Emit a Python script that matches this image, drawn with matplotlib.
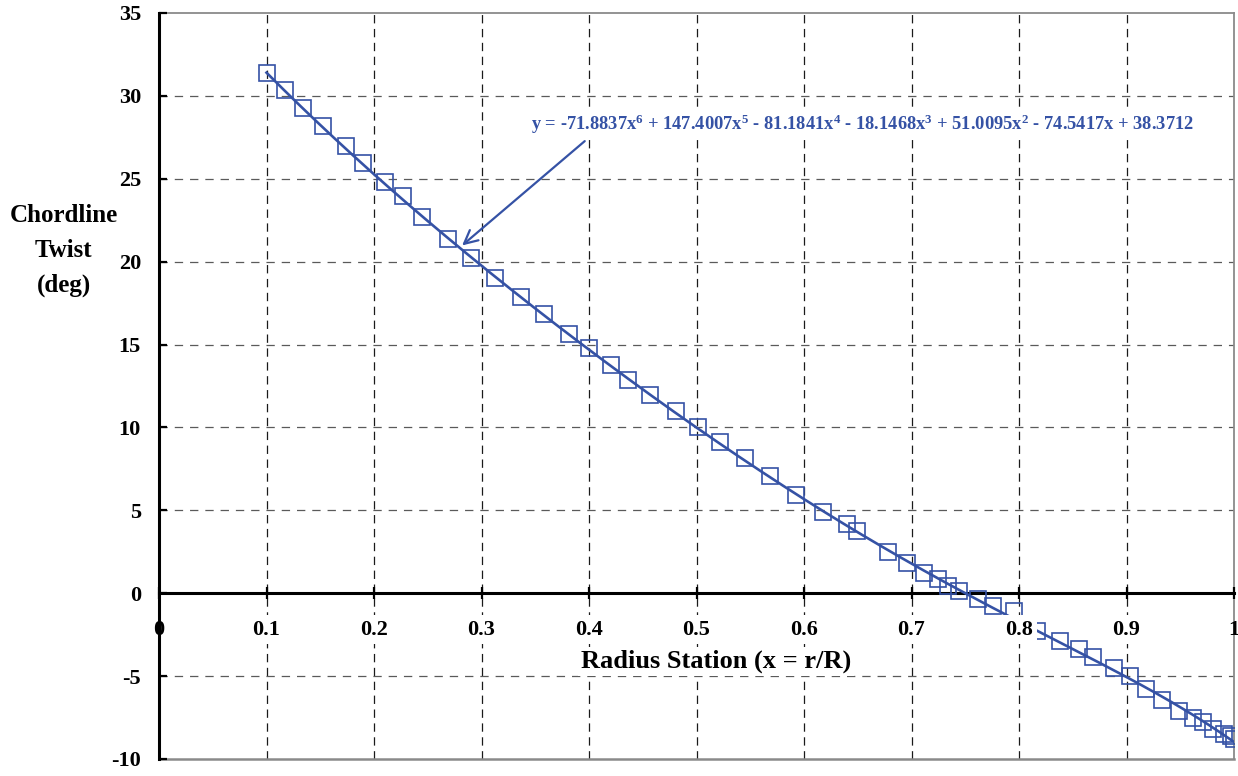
import matplotlib
matplotlib.use('Agg')
import matplotlib.pyplot as plt
import numpy as np

# ---------------- data ----------------
x_station = [0.100, 0.117, 0.134, 0.153, 0.174, 0.190, 0.210, 0.227, 0.245, 0.269,
             0.290, 0.313, 0.337, 0.358, 0.381, 0.400, 0.420, 0.436, 0.457, 0.481,
             0.501, 0.522, 0.545, 0.568, 0.593, 0.618, 0.640, 0.649, 0.678, 0.696,
             0.712, 0.725, 0.734, 0.744, 0.762, 0.776, 0.795, 0.817, 0.838, 0.856,
             0.869, 0.888, 0.903, 0.918, 0.933, 0.949, 0.962, 0.971, 0.980, 0.991,
             0.997, 1.000]
twist = [31.36, 30.34, 29.25, 28.17, 26.96, 25.93, 24.79, 23.94, 22.68, 21.35,
         20.21, 19.00, 17.85, 16.83, 15.62, 14.78, 13.75, 12.85, 11.94, 10.98,
         10.01, 9.11, 8.14, 7.06, 5.91, 4.89, 4.16, 3.74, 2.47, 1.81,
         1.21, 0.84, 0.42, 0.12, -0.36, -0.78, -1.09, -2.29, -2.90, -3.38,
         -3.86, -4.52, -5.01, -5.79, -6.45, -7.12, -7.54, -7.78, -8.20, -8.50,
         -8.62, -8.81]
# trendline coefficients as printed on the chart (x^6 ... x^0)
trend_coeffs = [-71.8837, 147.4007, -81.1841, -18.1468, 51.0095, -74.5417, 38.3712]

xticks = [0, 0.1, 0.2, 0.3, 0.4, 0.5, 0.6, 0.7, 0.8, 0.9, 1.0]
xtick_labels = ["0", "0.1", "0.2", "0.3", "0.4", "0.5", "0.6", "0.7", "0.8", "0.9", "1"]
yticks = [-10, -5, 0, 5, 10, 15, 20, 25, 30, 35]
ytick_labels = ["-10", "-5", "0", "5", "10", "15", "20", "25", "30", "35"]

eq_text = (r'y = -71.8837x$^{6}$ + 147.4007x$^{5}$ - 81.1841x$^{4}$ - 18.1468x$^{3}$'
           r' + 51.0095x$^{2}$ - 74.5417x + 38.3712')

# ---------------- style ----------------
plt.rcParams['font.family'] = 'Liberation Serif'
plt.rcParams['font.weight'] = 'bold'
plt.rcParams['mathtext.fontset'] = 'custom'
plt.rcParams['mathtext.rm'] = 'Liberation Serif:bold'
plt.rcParams['mathtext.it'] = 'Liberation Serif:bold'
plt.rcParams['mathtext.bf'] = 'Liberation Serif:bold'
plt.rcParams['axes.unicode_minus'] = False
plt.rcParams['lines.scale_dashes'] = False

blue = '#3552A5'
W, H = 1238, 776
fig = plt.figure(figsize=(W / 100, H / 100), dpi=100)
ax = fig.add_axes([159 / W, 17 / H, 1075 / W, 746 / H])
ax.set_xlim(0, 1)
ax.set_ylim(-10, 35)

# grid lines
for xv in xticks[1:-1]:
    ax.axvline(xv, color='#1a1a1a', lw=0.9, dashes=(6, 4), zorder=1)
for yv in yticks:
    if yv in (-10, 0, 35):
        continue
    ax.axhline(yv, color='#5a5a5a', lw=0.9, dashes=(6, 5), zorder=1)

# data
xs = np.linspace(min(x_station), max(x_station), 400)
ax.plot(xs, np.polyval(trend_coeffs, xs), color=blue, lw=1.9, zorder=3)
ax.plot(x_station, twist, ls='none', marker='s', ms=11, mfc='none',
        mec=blue, mew=1.2, zorder=3)

# spines / frame
ax.spines['left'].set_color('black')
ax.spines['left'].set_linewidth(2.2)
ax.spines['left'].set_zorder(4)
ax.spines['bottom'].set_position(('data', 0))
ax.spines['bottom'].set_color('black')
ax.spines['bottom'].set_linewidth(2.2)
for s in ('top', 'right'):
    ax.spines[s].set_color('#8a8a8a')
    ax.spines[s].set_linewidth(1.3)
ax.axhline(-10, color='#8a8a8a', lw=1.8, clip_on=False, zorder=4)

ax.xaxis.set_ticks_position('bottom')
ax.yaxis.set_ticks_position('left')
ax.set_xticks(xticks, xtick_labels)
ax.set_yticks(yticks, ytick_labels)
ax.tick_params(axis='x', direction='inout', length=8, width=1.6, pad=15, labelsize=16)
ax.tick_params(axis='y', direction='in', length=6, width=1.6, pad=13, labelsize=16)
for lab in ax.get_xticklabels()[1:-1]:
    lab.set_bbox(dict(facecolor='white', edgecolor='none', pad=3))
ax.xaxis.set_zorder(5)
ax.yaxis.set_zorder(5)

ax.set_xlabel('Radius Station (x = r/R)', fontsize=19, fontweight='bold',
              bbox=dict(facecolor='white', edgecolor='none', pad=2))
ax.xaxis.set_label_coords(0.518, 0.131)
ax.xaxis.label.set_va('center')

ax.set_ylabel('Chordline\nTwist\n(deg)', fontsize=18, fontweight='bold',
              rotation=0, ha='center', va='center', linespacing=1.65)
ax.yaxis.set_label_coords(-0.0885, 0.682)

# equation & arrow
ax.text(0.346, 28.29, eq_text, color=blue, fontsize=13.3, ha='left', va='center',
        zorder=6, bbox=dict(facecolor='white', edgecolor='none', pad=1))
ax.annotate('', xy=(0.280, 20.87), xytext=(0.398, 27.38),
            arrowprops=dict(arrowstyle='->', color=blue, lw=1.6, mutation_scale=24),
            zorder=6)

fig.savefig('out.png', dpi=100)
